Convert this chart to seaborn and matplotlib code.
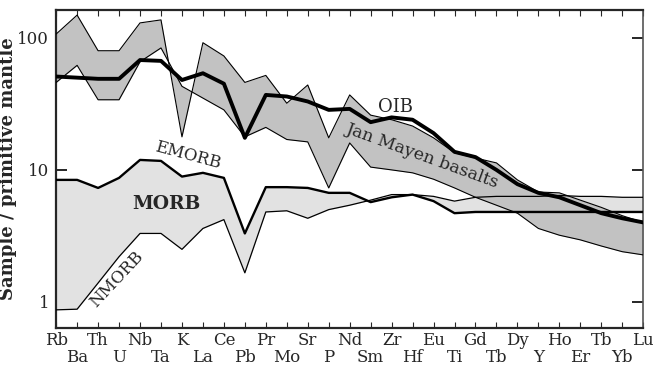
# Spider diagram: Jan Mayen basalts vs OIB / MORB, normalised to primitive mantle

import numpy as np
import matplotlib
matplotlib.use("Agg")
import matplotlib.pyplot as plt
from matplotlib.ticker import NullLocator
import seaborn as sns

# --- data ---
elements = ["Rb", "Ba", "Th", "U", "Nb", "Ta", "K", "La", "Ce", "Pb", "Pr", "Mo", "Sr", "P",
            "Nd", "Sm", "Zr", "Hf", "Eu", "Ti", "Gd", "Tb", "Dy", "Y", "Ho", "Er", "Tb", "Yb", "Lu"]

oib = [51, 50, 49, 49, 68, 67, 48, 54, 45, 17.5, 37, 36, 33, 28.5, 29, 23, 25, 24, 19,
       13.7, 12.5, 10, 7.8, 6.7, 6.2, 5.4, 4.7, 4.3, 4.0]

jan_mayen_a = [107, 149, 80, 80, 130, 137, 17.8, 92, 73, 46, 52, 32, 44, 17.5, 37, 26, 24, 21.5, 17.5,
               13.5, 12.3, 11.3, 8.4, 6.8, 6.7, 5.9, 5.2, 4.5, 4.0]
jan_mayen_b = [46, 62, 34, 34, 66, 84, 43, 35, 28.5, 17.8, 21, 17, 16.3, 7.3, 16, 10.5, 10, 9.5, 8.5,
               7.3, 6.2, 5.4, 4.7, 3.6, 3.2, 2.95, 2.65, 2.4, 2.27]

emorb = [8.4, 8.4, 7.3, 8.7, 11.9, 11.7, 8.9, 9.5, 8.7, 3.3, 7.4, 7.4, 7.3, 6.7, 6.7, 5.7, 6.2, 6.5, 5.8,
         4.7, 4.8, 4.8, 4.8, 4.8, 4.8, 4.8, 4.8, 4.8, 4.8]
nmorb = [0.87, 0.88, 1.39, 2.2, 3.3, 3.3, 2.5, 3.6, 4.2, 1.66, 4.8, 4.9, 4.3, 5.0, 5.4, 5.9, 6.5, 6.5, 6.3,
         5.8, 6.2, 6.3, 6.3, 6.3, 6.4, 6.3, 6.3, 6.2, 6.2]

# --- plot ---
sns.set_style("ticks")
plt.rcParams["font.family"] = ["DejaVu Serif"]

fig, ax = plt.subplots(figsize=(6.53, 3.68), dpi=100)
fig.subplots_adjust(left=0.086, right=0.985, top=0.973, bottom=0.109)

x = np.arange(len(elements))

ax.fill_between(x, emorb, nmorb, color="#e2e2e2", lw=0, zorder=1)
ax.fill_between(x, jan_mayen_a, jan_mayen_b, color="#c2c2c2", lw=0, zorder=2)

sns.lineplot(x=x, y=nmorb, ax=ax, color="black", lw=0.9, zorder=3)
sns.lineplot(x=x, y=emorb, ax=ax, color="black", lw=1.7, zorder=3)
sns.lineplot(x=x, y=jan_mayen_a, ax=ax, color="black", lw=0.8, zorder=3)
sns.lineplot(x=x, y=jan_mayen_b, ax=ax, color="black", lw=0.8, zorder=3)
sns.lineplot(x=x, y=oib, ax=ax, color="black", lw=2.8, zorder=4)

ax.set_yscale("log")
ax.set_xlim(0, len(elements) - 1)
ax.set_ylim(0.635, 163)

# two staggered rows of element labels: upper row on major ticks, lower row on minor ticks
ax.set_xticks(x[::2])
ax.set_xticklabels(elements[::2], fontsize=12)
ax.set_xticks(x[1::2], minor=True)
ax.set_xticklabels(elements[1::2], minor=True, fontsize=12)
ax.tick_params(axis="x", which="both", direction="in", top=True, length=4, width=0.8)
ax.tick_params(axis="x", which="major", pad=3)
ax.tick_params(axis="x", which="minor", pad=15)

ax.set_yticks([1, 10, 100])
ax.set_yticklabels(["1", "10", "100"], fontsize=12)
ax.yaxis.set_minor_locator(NullLocator())
ax.tick_params(axis="y", direction="in", right=True, length=8, width=1.4, pad=5)

ax.set_ylabel("Sample / primitive mantle", fontsize=13, fontweight="bold")
ax.yaxis.set_label_coords(-0.066, 0.5)

for side in ["top", "bottom", "left"]:
    ax.spines[side].set_linewidth(1.6)
ax.spines["right"].set_linewidth(1.2)
ax.spines["right"].set_color("#555555")

# labels on the curves
ax.text(16.2, 30, "OIB", fontsize=13, ha="center", va="center", zorder=5)
ax.text(17.45, 12.8, "Jan Mayen basalts", fontsize=12.5, rotation=-20,
        ha="center", va="center", rotation_mode="anchor", zorder=5)
ax.text(6.3, 12.9, "EMORB", fontsize=12, rotation=-15,
        ha="center", va="center", rotation_mode="anchor", zorder=5)
ax.text(5.25, 5.5, "MORB", fontsize=13.5, fontweight="bold",
        ha="center", va="center", zorder=5)
ax.text(2.91, 1.47, "NMORB", fontsize=12, rotation=47,
        ha="center", va="center", rotation_mode="anchor", zorder=5)

plt.savefig("out.png", dpi=100)
